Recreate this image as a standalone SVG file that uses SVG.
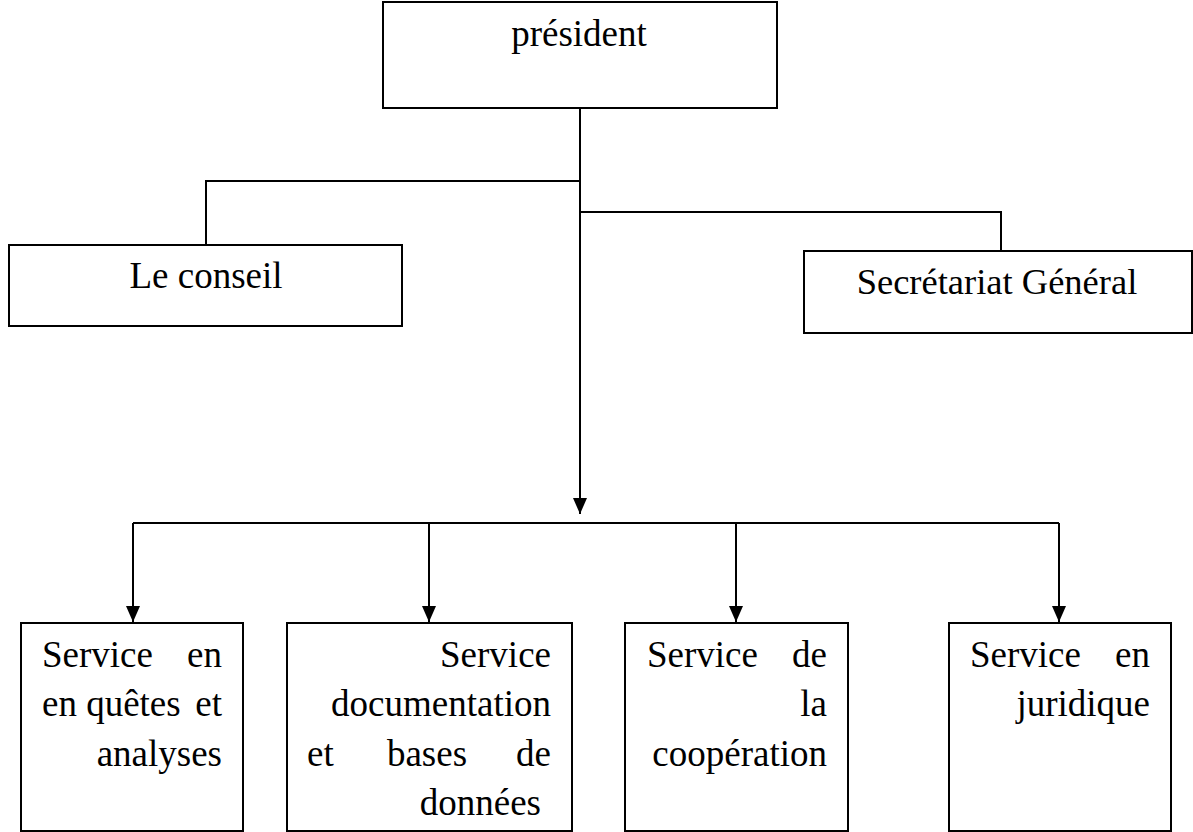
<svg xmlns="http://www.w3.org/2000/svg" width="1193" height="832" viewBox="0 0 1193 832">
<style>
.box{fill:#fff;stroke:#000;stroke-width:2}
.ln{fill:none;stroke:#000;stroke-width:2}
text{font-family:"Liberation Serif","Times New Roman",serif;font-size:37px;fill:#000}
.m{text-anchor:middle}
.e{text-anchor:end}
</style>
<defs>
<marker id="arr" markerUnits="userSpaceOnUse" viewBox="0 0 16 14" refX="16" refY="7" markerWidth="16" markerHeight="14" orient="auto">
<path d="M0,0 L16,7 L0,14 z" fill="#000"/>
</marker>
</defs>
<rect width="1193" height="832" fill="#fff"/>
<g id="connectors">
<path class="ln" d="M580,108 V514" marker-end="url(#arr)"/>
<path class="ln" d="M580,181 H206 V245"/>
<path class="ln" d="M580,212 H1001 V251"/>
<path class="ln" d="M133,523 H1059"/>
<path class="ln" d="M133,523 V622" marker-end="url(#arr)"/>
<path class="ln" d="M429,523 V622" marker-end="url(#arr)"/>
<path class="ln" d="M736,523 V622" marker-end="url(#arr)"/>
<path class="ln" d="M1059,523 V622" marker-end="url(#arr)"/>
</g>
<g id="president">
<rect class="box" x="383" y="2" width="394" height="106"/>
<text class="m" x="579" y="46">président</text>
</g>
<g id="conseil">
<rect class="box" x="9" y="245" width="393" height="81"/>
<text class="m" x="206" y="288">Le conseil</text>
</g>
<g id="secretariat">
<rect class="box" x="804" y="251" width="388" height="82"/>
<text class="m" x="997" y="294" style="font-size:36.5px">Secrétariat Général</text>
</g>
<g id="service-enquetes">
<rect class="box" x="21" y="623" width="222" height="208"/>
<text x="42" y="667">Service</text>
<text class="e" x="222" y="667">en</text>
<text x="42" y="716">en quêtes</text>
<text class="e" x="222" y="716">et</text>
<text class="e" x="222" y="766">analyses</text>
</g>
<g id="service-documentation">
<rect class="box" x="287" y="623" width="285" height="208"/>
<text class="e" x="551" y="667">Service</text>
<text class="e" x="551" y="716">documentation</text>
<text x="307" y="766">et</text>
<text class="m" x="427" y="766">bases</text>
<text class="e" x="551" y="766">de</text>
<text class="e" x="541" y="815">données</text>
</g>
<g id="service-cooperation">
<rect class="box" x="625" y="623" width="223" height="208"/>
<text x="647" y="667">Service</text>
<text class="e" x="827" y="667">de</text>
<text class="e" x="827" y="716">la</text>
<text class="e" x="827" y="766">coopération</text>
</g>
<g id="service-juridique">
<rect class="box" x="949" y="623" width="222" height="208"/>
<text x="970" y="667">Service</text>
<text class="e" x="1150" y="667">en</text>
<text class="e" x="1150" y="716">juridique</text>
</g>
</svg>
